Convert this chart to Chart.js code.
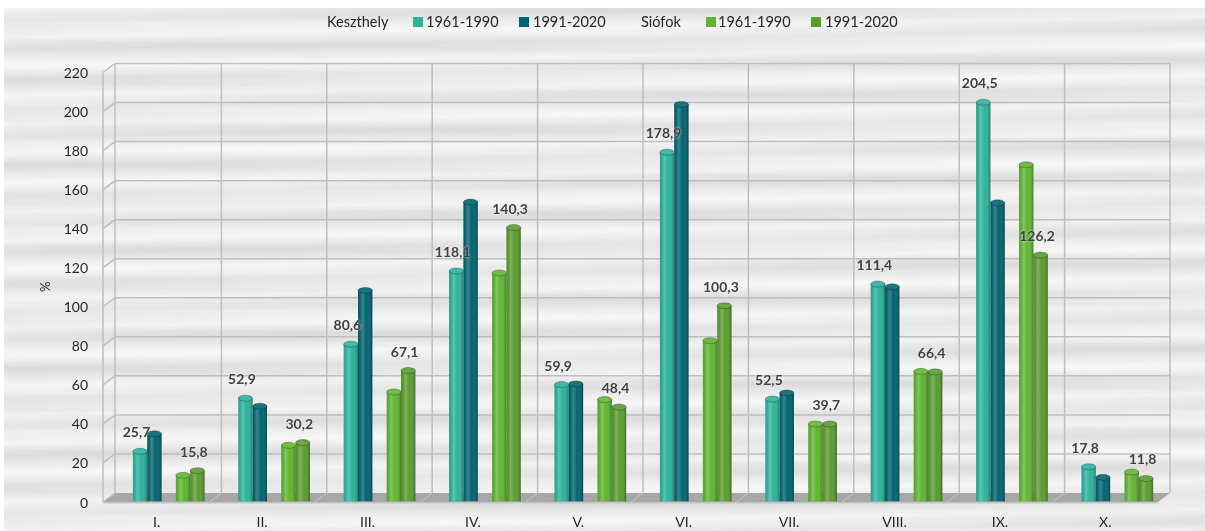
<!DOCTYPE html>
<html>
<head>
<meta charset="utf-8">
<script src="https://cdn.jsdelivr.net/npm/chart.js@4.4.1/dist/chart.umd.min.js"></script>
<style>
html, body { margin: 0; padding: 0; background: #fff; }
#wrap { position: relative; width: 1205px; height: 531px; overflow: hidden; }
#bg {
    position: absolute; left: 4px; top: 8px; right: 0; bottom: 0;
    background:
        repeating-linear-gradient(179deg, rgba(255,255,255,0.55) 0px, rgba(255,255,255,0) 7px, rgba(0,0,0,0.035) 13px, rgba(255,255,255,0) 20px, rgba(255,255,255,0.45) 29px),
        repeating-linear-gradient(1deg, rgba(0,0,0,0.02) 0px, rgba(255,255,255,0.3) 17px, rgba(0,0,0,0.03) 41px),
        #e9e9e9;
}
#box { position: absolute; left: 0; top: 0; width: 1205px; height: 531px; }
.lg { position: absolute; top: 13px; font: 14.5px Lato, sans-serif; color: #262626; line-height: 18px; white-space: nowrap; }
.sw { position: absolute; top: 17px; width: 10px; height: 10px; }
</style>
</head>
<body>
<div id="wrap">
    <div id="bg"></div>
    <div id="box"><canvas id="chart"></canvas></div>
    <div id="legend"></div>
</div>
<script>
const categories = ['I.', 'II.', 'III.', 'IV.', 'V.', 'VI.', 'VII.', 'VIII.', 'IX.', 'X.'];

const keszthely1961 = [25.7, 52.9, 80.6, 118.1, 59.9, 178.9, 52.5, 111.4, 204.5, 17.8];
const keszthely1991 = [34.7, 48.8, 108.1, 153.4, 60.2, 203.4, 55.6, 110.0, 153.0, 12.4];
const siofok1961 = [13.4, 28.8, 56.1, 117.1, 52.2, 82.4, 39.7, 66.7, 172.5, 15.1];
const siofok1991 = [15.8, 30.2, 67.1, 140.3, 48.4, 100.3, 39.7, 66.4, 126.2, 11.8];

const yMax = 220;
const yStep = 20;

const colors = ['#2bb39c', '#00636f', '#5fb532', '#5a9c30'];

// 3D offsets of back wall / front plane from the bar plane
const BACK = -8.5, FRONT = 0.5, DX = 12;

const fmt = v => v.toFixed(1).replace('.', ',');

// legend (html, irregular spacing as in the original)
const legendItems = [
    { text: 'Keszthely', x: 327 },
    { color: colors[0], x: 413 }, { text: '1961-1990', x: 426 },
    { color: colors[1], x: 519 }, { text: '1991-2020', x: 533 },
    { text: 'Siófok', x: 641 },
    { color: colors[2], x: 706 }, { text: '1961-1990', x: 718 },
    { color: colors[3], x: 811 }, { text: '1991-2020', x: 825 }
];
const legendEl = document.getElementById('legend');
legendItems.forEach(it => {
    const d = document.createElement('div');
    if (it.color) {
        d.className = 'sw';
        d.style.background = it.color;
    } else {
        d.className = 'lg';
        d.textContent = it.text;
    }
    d.style.left = it.x + 'px';
    legendEl.appendChild(d);
});

const wallPlugin = {
    id: 'walls',
    beforeDatasetsDraw(chart) {
        const { ctx, chartArea: a, scales: { x, y } } = chart;
        const L = a.left - 1, R = a.right;
        const y0 = y.getPixelForValue(0);
        const yT = y.getPixelForValue(yMax);
        ctx.save();

        // floor
        ctx.fillStyle = '#a7a7a7';
        ctx.beginPath();
        ctx.moveTo(L, y0 + BACK);
        ctx.lineTo(R, y0 + BACK);
        ctx.lineTo(R - DX, y0 + FRONT);
        ctx.lineTo(L - DX, y0 + FRONT);
        ctx.closePath();
        ctx.fill();
        ctx.fillStyle = '#c4c4c4';
        ctx.fillRect(L - DX, y0 + FRONT, R - L, 1.5);

        ctx.strokeStyle = '#bebebe';
        ctx.lineWidth = 1.5;

        // horizontal grid on back wall + left wall diagonals
        y.ticks.forEach(t => {
            const py = y.getPixelForValue(t.value);
            ctx.beginPath();
            if (t.value > 0) {
                ctx.moveTo(L, py + BACK);
                ctx.lineTo(R, py + BACK);
            }
            ctx.moveTo(L - DX, py + FRONT);
            ctx.lineTo(L, py + BACK);
            ctx.stroke();
        });

        // verticals
        const bounds = [L];
        for (let i = 0; i < categories.length - 1; i++) {
            bounds.push((x.getPixelForValue(i) + x.getPixelForValue(i + 1)) / 2);
        }
        bounds.push(R);
        ctx.beginPath();
        bounds.forEach(bx => {
            ctx.moveTo(bx, yT + BACK);
            ctx.lineTo(bx, y0 + BACK);
        });
        ctx.moveTo(L - DX, yT + FRONT);
        ctx.lineTo(L - DX, y0 + FRONT);
        ctx.stroke();

        // floor separators
        ctx.strokeStyle = 'rgba(220,220,220,0.6)';
        ctx.lineWidth = 1;
        ctx.beginPath();
        bounds.slice(1, -1).forEach(bx => {
            ctx.moveTo(bx, y0 + BACK);
            ctx.lineTo(bx - DX, y0 + FRONT);
        });
        ctx.stroke();
        ctx.restore();
    },
    afterDatasetsDraw(chart) {
        const ctx = chart.ctx;
        ctx.save();
        chart.data.datasets.forEach((ds, i) => {
            const meta = chart.getDatasetMeta(i);
            meta.data.forEach((el, j) => {
                if (ds.data[j] == null) return;
                const { x, y, base, width } = el.getProps(['x', 'y', 'base', 'width'], true);
                const l = x - width / 2;
                const g = ctx.createLinearGradient(l, 0, l + width, 0);
                g.addColorStop(0, 'rgba(0,0,0,0.08)');
                g.addColorStop(0.3, 'rgba(255,255,255,0.22)');
                g.addColorStop(0.6, 'rgba(255,255,255,0)');
                g.addColorStop(1, 'rgba(0,0,0,0.3)');
                ctx.fillStyle = g;
                ctx.fillRect(l, y, width, base - y);

                // top cap
                ctx.beginPath();
                ctx.ellipse(x, y, width / 2, 3, 0, 0, Math.PI * 2);
                ctx.fillStyle = ds.backgroundColor;
                ctx.fill();
                ctx.fillStyle = 'rgba(255,255,255,0.1)';
                ctx.fill();
                ctx.strokeStyle = 'rgba(0,0,0,0.25)';
                ctx.lineWidth = 1;
                ctx.stroke();
            });
        });

        // value labels
        ctx.font = 'bold 14px Lato, sans-serif';
        ctx.textAlign = 'center';
        ctx.textBaseline = 'middle';
        ctx.shadowColor = 'rgba(255,255,255,0.9)';
        ctx.shadowBlur = 2;
        ctx.fillStyle = '#404040';
        chart.data.datasets.forEach((ds, i) => {
            if (!ds.showValues) return;
            const meta = chart.getDatasetMeta(i);
            meta.data.forEach((el, j) => {
                const v = ds.data[j];
                if (v == null) return;
                ctx.fillText(fmt(v), el.x - 3.5, el.y - 18.5);
            });
        });
        ctx.restore();
    }
};

new Chart(document.getElementById('chart'), {
    type: 'bar',
    data: {
        labels: categories,
        datasets: [
            { label: 'Keszthely 1961-1990', data: keszthely1961, backgroundColor: colors[0], showValues: true },
            { label: 'Keszthely 1991-2020', data: keszthely1991, backgroundColor: colors[1] },
            { label: '', data: categories.map(() => null), backgroundColor: 'rgba(0,0,0,0)' },
            { label: 'Siófok 1961-1990', data: siofok1961, backgroundColor: colors[2] },
            { label: 'Siófok 1991-2020', data: siofok1991, backgroundColor: colors[3], showValues: true }
        ]
    },
    options: {
        responsive: true,
        maintainAspectRatio: false,
        animation: false,
        layout: { padding: { top: 72, right: 35, bottom: 0, left: 0 } },
        datasets: {
            bar: { barPercentage: 1, categoryPercentage: 0.68 }
        },
        plugins: {
            legend: { display: false },
            tooltip: { enabled: false }
        },
        scales: {
            x: {
                grid: { display: false, drawTicks: false },
                border: { display: false },
                ticks: { color: '#262626', font: { family: 'Lato', size: 14 }, padding: 13, labelOffset: -12 },
                afterFit: s => { s.height = 29.5; s.paddingLeft = 0; s.paddingRight = 0; }
            },
            y: {
                min: 0,
                max: yMax,
                grid: { display: false, drawTicks: false },
                border: { display: false },
                ticks: { stepSize: yStep, color: '#262626', font: { family: 'Lato', size: 14 }, padding: 28, labelOffset: 1.5 },
                title: { display: true, text: '%', color: '#262626', font: { family: 'Lato', size: 13 }, padding: { top: 38, bottom: 0 } },
                afterFit: s => { s.width = 116; s.paddingTop = 0; s.paddingBottom = 0; }
            }
        }
    },
    plugins: [wallPlugin]
});
</script>
</body>
</html>
